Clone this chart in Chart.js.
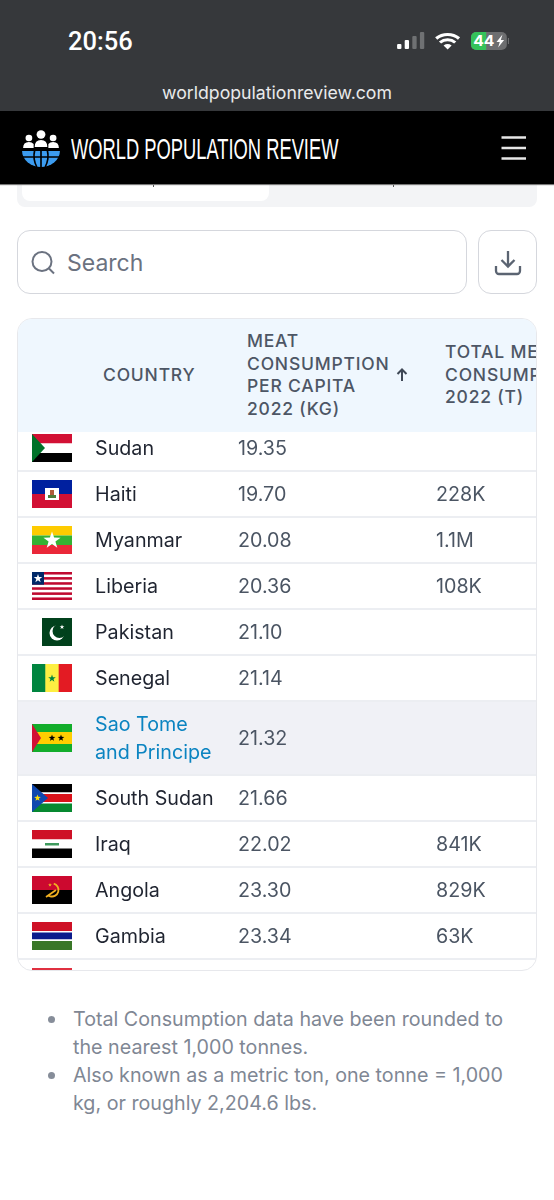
<!DOCTYPE html>
<html>
<head>
<meta charset="utf-8">
<title>Meat consumption per capita</title>
<script src="https://cdn.jsdelivr.net/npm/chart.js@4"></script>
<style>
  html, body { margin: 0; padding: 0; background: #fff; }
  body { position: relative; width: 554px; height: 1200px; overflow: hidden; font-family: Inter, "Noto Sans", sans-serif; }
  .abs { position: absolute; white-space: nowrap; }
  #status { left: 0; top: 0; width: 554px; height: 111px; background: #36383b; }
  #nav { left: 0; top: 111px; width: 554px; height: 73px; background: #000; box-shadow: 0 1px 1px #777; z-index: 2; }
  #time { left: 68px; top: 26px; font-family: Roboto, sans-serif; font-size: 25.5px; line-height: 30px; font-weight: 500; color: #fff; }
  #url { left: 0; width: 554px; top: 81px; text-align: center; font-size: 17.7px; line-height: 24px; color: #e9eaeb; }
  #brand { left: 71px; top: 129px; font-family: "Liberation Sans", sans-serif; font-size: 29px; line-height: 40px; color: #fff; transform-origin: left center; transform: scaleX(0.632); z-index: 3; }
  #tabs { left: 17px; top: 170px; width: 520px; height: 37px; background: #f3f4f6; border-radius: 8px; }
  #tab { left: 22px; top: 170px; width: 247px; height: 31px; background: #fff; border-radius: 8px; }
  .box { box-sizing: border-box; border: 1.5px solid #d5d7dd; border-radius: 13px; background: #fff; }
  #search { left: 17px; top: 230px; width: 450px; height: 64px; }
  #download { left: 478px; top: 230px; width: 59px; height: 64px; }
  #searchText { left: 67px; top: 248px; font-size: 23px; line-height: 30px; color: #6b7280; }
  #tableWrap { left: 17px; top: 318px; width: 518px; height: 651px; border: 1px solid #e7e8ec; border-radius: 15px; overflow: hidden; background: #fff; }
  #tableHead { left: 0; top: 0; width: 518px; height: 113px; background: #eff7fe; }
  .th { position: absolute; white-space: nowrap; font-size: 17.5px; line-height: 22.5px; letter-spacing: 0.8px; font-weight: 500; color: #4d5665; }
  #chart { position: absolute; left: 0; top: 112px; }
  .note { color: #7f8794; font-size: 19.7px; line-height: 28px; left: 73px; }
  .dot { width: 7px; height: 7px; border-radius: 50%; background: #868d99; left: 48px; }
</style>
</head>
<body>
<div class="abs" id="status"></div>
<div class="abs" id="time">20:56</div>
<svg class="abs" style="left:396px;top:30px" width="113" height="22" viewBox="0 0 104 22" preserveAspectRatio="none">
  <rect x="1" y="14" width="4" height="5" rx="1" fill="#fff"/>
  <rect x="8" y="10" width="4" height="9" rx="1" fill="#fff"/>
  <rect x="15" y="6" width="4" height="13" rx="1" fill="#6f7173"/>
  <rect x="22" y="2" width="4" height="17" rx="1" fill="#6f7173"/>
  <path d="M37 8.5 a16 16 0 0 1 21 0 M40.5 12.5 a10.5 10.5 0 0 1 14 0" fill="none" stroke="#fff" stroke-width="3"/>
  <path d="M43.8 15.5 a6 6 0 0 1 7.4 0 L47.5 19.5 Z" fill="#fff"/>
  <rect x="69" y="2" width="33" height="18" rx="5" fill="#6d6e70"/>
  <path d="M74 2 H83 V20 H74 a5 5 0 0 1 -5 -5 V7 a5 5 0 0 1 5 -5 Z" fill="#35c25a"/>
  <rect x="103" y="8" width="1.5" height="6" fill="#6d6e70"/>
  <text x="71" y="16.5" font-family="Inter" font-size="14.5" font-weight="700" fill="#fff">44</text>
  <path d="M98 4.5 L92.5 12 H95.5 L94 17.5 L99.5 10 H96.5 Z" fill="#fff"/>
</svg>
<div class="abs" id="url">worldpopulationreview.com</div>
<div class="abs" id="nav"></div>
<svg class="abs" style="left:21px;top:128px;z-index:3" width="40" height="40" viewBox="0 0 38 40" preserveAspectRatio="none">
  <circle cx="19" cy="6.5" r="4.2" fill="#fff"/>
  <circle cx="7.5" cy="10" r="3.2" fill="#fff"/>
  <circle cx="30.5" cy="10" r="3.2" fill="#fff"/>
  <path d="M13 19 q0 -7 6 -7 q6 0 6 7 Z M2 20 q0 -6 5.5 -6 q3 0 4.5 2 l0 4 Z M36 20 q0 -6 -5.5 -6 q-3 0 -4.5 2 l0 4 Z" fill="#fff"/>
  <path d="M1 23 H37 A18 16 0 0 1 1 23 Z" fill="#3c9cf0"/>
  <path d="M1 29 H37 M13 22 Q11 31 15 39 M25 22 Q27 31 23 39 M19 22 V39" stroke="#000" stroke-width="1.6" fill="none"/>
</svg>
<div class="abs" id="brand">WORLD POPULATION REVIEW</div>
<svg class="abs" style="left:500px;top:135px;z-index:3" width="28" height="26"><path d="M1.5 2.5 H26 M1.5 13 H26 M1.5 23.5 H26" stroke="#e6e6e6" stroke-width="2.5"/></svg>

<div class="abs" id="tabs"></div>
<div class="abs" id="tab"></div>
<div class="abs" style="left:153px;top:184px;width:1px;height:3px;background:#555"></div>
<div class="abs" style="left:393px;top:184px;width:1px;height:3px;background:#555"></div>

<div class="abs box" id="search"></div>
<svg class="abs" style="left:29px;top:249px" width="28" height="28" viewBox="0 0 28 28"><circle cx="13" cy="12.5" r="9.5" fill="none" stroke="#6b7280" stroke-width="2"/><path d="M20 19.5 L25 24.5" stroke="#6b7280" stroke-width="2"/></svg>
<div class="abs" id="searchText">Search</div>
<div class="abs box" id="download"></div>
<svg class="abs" style="left:493px;top:249px" width="30" height="28" viewBox="0 0 30 28"><path d="M15 2 V17 M8.5 11 L15 17.5 L21.5 11 M3 17 V22 a3 3 0 0 0 3 3 H24 a3 3 0 0 0 3 -3 V17" fill="none" stroke="#5b6472" stroke-width="2.3"/></svg>

<div class="abs" id="tableWrap">
  <div class="abs" id="tableHead"></div>
  <canvas id="chart" width="518" height="574"></canvas>
</div>

<script>
// table contents, top to bottom
const countries = ['Sudan', 'Haiti', 'Myanmar', 'Liberia', 'Pakistan', 'Senegal', ['Sao Tome', 'and Principe'], 'South Sudan', 'Iraq', 'Angola', 'Gambia', ''];
const perCapita = [19.35, 19.70, 20.08, 20.36, 21.10, 21.14, 21.32, 21.66, 22.02, 23.30, 23.34, null];
const totals = [null, '228K', '1.1M', '108K', null, null, null, null, '841K', '829K', '63K', null];
const countryHead = ['COUNTRY'];
const perCapitaHead = ['MEAT', 'CONSUMPTION', 'PER CAPITA', '2022 (KG)'];
const totalHead = ['TOTAL MEAT', 'CONSUMPTION', '2022 (T)'];
const notes = [
    ['Total Consumption data have been rounded to', 'the nearest 1,000 tonnes.'],
    ['Also known as a metric ton, one tonne = 1,000', 'kg, or roughly 2,204.6 lbs.']
];

// layout only
const rowHeights = [46, 46, 46, 46, 46, 46, 74, 46, 46, 46, 46, 46];
const hiddenTop = 6; // first row slides under the sticky header
const columns = { flag: 34, country: 77, perCapita: 220, total: 418 };
const highlightRow = 6;

// running row edges, used for the separators and row centres
const rowEdges = [0];
rowHeights.forEach(h => rowEdges.push(rowEdges[rowEdges.length - 1] + h));

function headerColumn(lines, left, centerY) {
    const head = document.getElementById('tableHead');
    const top = centerY - lines.length * 22.5 / 2;
    lines.forEach((line, i) => {
        const el = document.createElement('div');
        el.className = 'th';
        el.style.left = left + 'px';
        el.style.top = (top + i * 22.5) + 'px';
        el.textContent = line;
        head.appendChild(el);
    });
}
headerColumn(countryHead, 85, 56);
headerColumn(perCapitaHead, 229, 56);
headerColumn(totalHead, 427, 56);
document.getElementById('tableHead').insertAdjacentHTML('beforeend',
    '<svg style="position:absolute;left:377px;top:48px" width="14" height="16" viewBox="0 0 14 16"><path d="M7 14 V3 M2.5 7 L7 2.5 L11.5 7" fill="none" stroke="#3f4856" stroke-width="2"/></svg>');

// notes under the table
notes.forEach((note, n) => {
    note.forEach((line, i) => {
        const el = document.createElement('div');
        el.className = 'abs note';
        el.style.top = (1005 + (n * 2 + i) * 28) + 'px';
        el.textContent = line;
        document.body.appendChild(el);
    });
    const dot = document.createElement('div');
    dot.className = 'abs dot';
    dot.style.top = (1016 + n * 56) + 'px';
    document.body.appendChild(dot);
});

// flags are small canvases used as point styles
function star(c, x, y, r, color) {
    c.fillStyle = color;
    c.beginPath();
    for (let i = 0; i < 10; i++) {
        const rad = i % 2 ? r * 0.4 : r;
        const a = -Math.PI / 2 + i * Math.PI / 5;
        c.lineTo(x + rad * Math.cos(a), y + rad * Math.sin(a));
    }
    c.closePath();
    c.fill();
}
function stripes(c, colors, heights) {
    let y = 0;
    colors.forEach((color, i) => {
        c.fillStyle = color;
        c.fillRect(0, y, 40, heights[i]);
        y += heights[i];
    });
}
function triangle(c, color, w) {
    c.fillStyle = color;
    c.beginPath();
    c.moveTo(0, 0);
    c.lineTo(w, 14);
    c.lineTo(0, 28);
    c.fill();
}
const flagPainters = [
    c => { stripes(c, ['#d21034', '#fff', '#000'], [9.5, 9.5, 9]); triangle(c, '#007229', 13); },
    c => {
        stripes(c, ['#00209f', '#d21034'], [14, 14]);
        c.fillStyle = '#fff'; c.fillRect(13, 8, 14, 12);
        c.fillStyle = '#4f7a3a'; c.fillRect(16, 15, 8, 3);
        c.fillStyle = '#b05a3a'; c.fillRect(18, 10, 4, 5);
    },
    c => { stripes(c, ['#fecb00', '#34b233', '#ea2839'], [9.5, 9.5, 9]); star(c, 20, 14.5, 9, '#fff'); },
    c => {
        for (let i = 0; i < 11; i++) {
            c.fillStyle = i % 2 ? '#fff' : '#bf0a30';
            c.fillRect(0, i * 28 / 11, 40, 28 / 11 + 0.5);
        }
        c.fillStyle = '#002868'; c.fillRect(0, 0, 12, 12.7);
        star(c, 6, 6.5, 4.5, '#fff');
    },
    c => {
        c.fillStyle = '#01411c'; c.fillRect(10, 0, 30, 28);
        c.fillStyle = '#fff'; c.beginPath(); c.arc(25, 15, 7.5, 0, Math.PI * 2); c.fill();
        c.fillStyle = '#01411c'; c.beginPath(); c.arc(27.5, 13, 7, 0, Math.PI * 2); c.fill();
        star(c, 30, 9, 2.5, '#fff');
    },
    c => {
        ['#00853f', '#fdef42', '#e31b23'].forEach((color, i) => { c.fillStyle = color; c.fillRect(i * 40 / 3, 0, 40 / 3 + 0.5, 28); });
        star(c, 20, 14.5, 4, '#00853f');
    },
    c => {
        stripes(c, ['#12ad2b', '#ffce00', '#12ad2b'], [8, 12, 8]);
        triangle(c, '#d21034', 9);
        star(c, 20, 14, 3.5, '#000');
        star(c, 29, 14, 3.5, '#000');
    },
    c => {
        stripes(c, ['#000', '#fff', '#da121a', '#fff', '#078930'], [8.5, 1.5, 8, 1.5, 8.5]);
        c.fillStyle = '#0f47af'; c.beginPath(); c.moveTo(0, 0); c.lineTo(16, 14); c.lineTo(0, 28); c.fill();
        star(c, 5.5, 14, 3.5, '#fcdd09');
    },
    c => {
        stripes(c, ['#ce1126', '#fff', '#000'], [9.5, 9, 9.5]);
        c.fillStyle = '#3e9a5d'; c.fillRect(13, 13, 14, 2.5);
    },
    c => {
        stripes(c, ['#cc092f', '#000'], [14, 14]);
        c.strokeStyle = '#f0b020'; c.lineWidth = 1.8;
        c.beginPath(); c.arc(20, 14, 6.5, -1.3, 2.2); c.stroke();
        c.beginPath(); c.moveTo(14, 21); c.lineTo(24, 14); c.stroke();
        star(c, 18, 9, 2, '#f0b020');
    },
    c => { stripes(c, ['#ce1126', '#fff', '#0c1c8c', '#fff', '#3a7728'], [9, 1.5, 7, 1.5, 9]); },
    c => { stripes(c, ['#e03040', '#fff'], [9, 19]); }
];
const flags = flagPainters.map(paint => {
    const canvas = document.createElement('canvas');
    canvas.width = 40;
    canvas.height = 28;
    paint(canvas.getContext('2d'));
    return canvas;
});

function cellPoints(column) {
    return countries.map((name, i) => ({ x: column, y: (rowEdges[i] + rowEdges[i + 1]) / 2 }));
}

// fills the selected row, then the separators get drawn over it
const rowHighlight = {
    id: 'rowHighlight',
    beforeDraw(chart) {
        const { ctx, chartArea, scales } = chart;
        const top = scales.y.getPixelForValue(rowEdges[highlightRow]);
        const bottom = scales.y.getPixelForValue(rowEdges[highlightRow + 1]);
        ctx.save();
        ctx.fillStyle = '#f0f1f6';
        ctx.fillRect(chartArea.left, top, chartArea.right - chartArea.left, bottom - top);
        ctx.restore();
    }
};

// writes the cell text at each dataset's points
const cellText = {
    id: 'cellText',
    afterDatasetsDraw(chart) {
        const ctx = chart.ctx;
        ctx.save();
        ctx.textBaseline = 'middle';
        ctx.textAlign = 'left';
        chart.data.datasets.forEach((dataset, d) => {
            if (!dataset.texts) return;
            const points = chart.getDatasetMeta(d).data;
            dataset.texts.forEach((text, i) => {
                if (text === null || text === '') return;
                ctx.font = '400 19.7px Inter';
                ctx.fillStyle = dataset.textColor;
                if (dataset.linkRow === i) ctx.fillStyle = '#0b84c1';
                const lines = Array.isArray(text) ? text : [text];
                lines.forEach((line, l) => {
                    ctx.fillText(line, points[i].x, points[i].y + 1 + (l - (lines.length - 1) / 2) * 28);
                });
            });
        });
        ctx.restore();
    }
};

new Chart(document.getElementById('chart'), {
    type: 'scatter',
    data: {
        datasets: [
            { label: 'Flag', data: cellPoints(columns.flag), pointStyle: flags, pointRadius: 14 },
            { label: 'Country', data: cellPoints(columns.country), pointRadius: 0, texts: countries, textColor: '#1f2430', linkRow: highlightRow },
            { label: 'Meat consumption per capita 2022 (kg)', data: cellPoints(columns.perCapita), pointRadius: 0, texts: perCapita.map(v => v === null ? null : v.toFixed(2)), textColor: '#4b5563' },
            { label: 'Total meat consumption 2022 (t)', data: cellPoints(columns.total), pointRadius: 0, texts: totals, textColor: '#4b5563' }
        ]
    },
    options: {
        responsive: false,
        animation: false,
        events: [],
        layout: { padding: 0, autoPadding: false },
        plugins: { legend: { display: false }, tooltip: { enabled: false } },
        scales: {
            x: { type: 'linear', display: false, min: 0, max: 518 },
            y: {
                type: 'linear',
                reverse: true,
                min: hiddenTop,
                max: rowEdges[rowEdges.length - 1],
                afterBuildTicks(scale) {
                    scale.ticks = rowEdges.slice(1).map(value => ({ value }));
                },
                ticks: { display: false, autoSkip: false },
                border: { display: false },
                grid: { color: '#eceef2', lineWidth: 2, drawTicks: false }
            }
        }
    },
    plugins: [rowHighlight, cellText]
});
</script>
</body>
</html>
